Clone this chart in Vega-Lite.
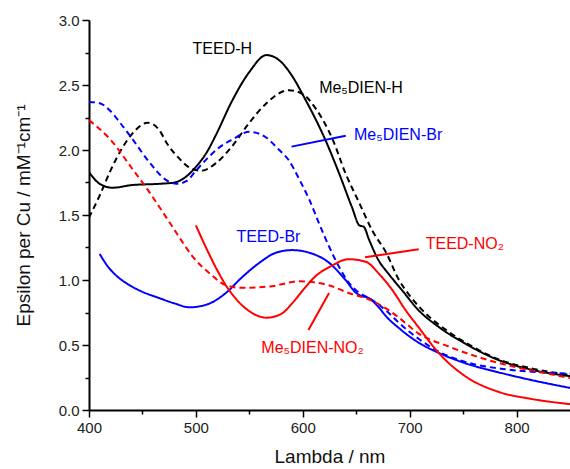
{
  "$schema": "https://vega.github.io/schema/vega-lite/v6.json",
  "width": 481,
  "height": 390,
  "autosize": {"type": "none"},
  "padding": {"left": 89, "top": 20, "right": 0, "bottom": 59},
  "background": "white",
  "config": {
    "view": {"stroke": null},
    "font": "Liberation Sans",
    "axis": {
      "grid": false,
      "domainColor": "black",
      "domainWidth": 2,
      "tickColor": "black",
      "tickWidth": 1.5,
      "labelFlush": false,
      "labelOverlap": false,
      "labelFont": "Liberation Sans",
      "labelFontSize": 15,
      "labelColor": "#222222",
      "titleFont": "Liberation Sans",
      "titleFontSize": 19,
      "titleFontWeight": "normal",
      "titleColor": "#111111"
    }
  },
  "datasets": {
    "curves": [
      {"s": "TEED-H", "x": 400, "y": 1.83}, {"s": "TEED-H", "x": 410, "y": 1.74}, {"s": "TEED-H", "x": 422, "y": 1.71}, {"s": "TEED-H", "x": 440, "y": 1.73}, {"s": "TEED-H", "x": 466, "y": 1.74}, {"s": "TEED-H", "x": 480, "y": 1.75}, {"s": "TEED-H", "x": 490, "y": 1.79}, {"s": "TEED-H", "x": 500, "y": 1.87}, {"s": "TEED-H", "x": 510, "y": 1.98}, {"s": "TEED-H", "x": 519, "y": 2.12}, {"s": "TEED-H", "x": 534, "y": 2.38}, {"s": "TEED-H", "x": 550, "y": 2.6}, {"s": "TEED-H", "x": 566, "y": 2.73}, {"s": "TEED-H", "x": 578, "y": 2.69}, {"s": "TEED-H", "x": 590, "y": 2.57}, {"s": "TEED-H", "x": 601, "y": 2.41}, {"s": "TEED-H", "x": 621, "y": 2.08}, {"s": "TEED-H", "x": 634, "y": 1.82}, {"s": "TEED-H", "x": 646, "y": 1.56}, {"s": "TEED-H", "x": 653, "y": 1.42}, {"s": "TEED-H", "x": 657, "y": 1.41}, {"s": "TEED-H", "x": 662, "y": 1.31}, {"s": "TEED-H", "x": 671, "y": 1.15}, {"s": "TEED-H", "x": 680, "y": 1.05}, {"s": "TEED-H", "x": 693, "y": 0.92}, {"s": "TEED-H", "x": 708, "y": 0.77}, {"s": "TEED-H", "x": 727, "y": 0.64}, {"s": "TEED-H", "x": 752, "y": 0.51}, {"s": "TEED-H", "x": 783, "y": 0.385}, {"s": "TEED-H", "x": 814, "y": 0.31}, {"s": "TEED-H", "x": 850, "y": 0.26},
      {"s": "Me5DIEN-H", "x": 400, "y": 1.48}, {"s": "Me5DIEN-H", "x": 410, "y": 1.65}, {"s": "Me5DIEN-H", "x": 420, "y": 1.84}, {"s": "Me5DIEN-H", "x": 430, "y": 2.0}, {"s": "Me5DIEN-H", "x": 440, "y": 2.12}, {"s": "Me5DIEN-H", "x": 455, "y": 2.21}, {"s": "Me5DIEN-H", "x": 466, "y": 2.15}, {"s": "Me5DIEN-H", "x": 473, "y": 2.05}, {"s": "Me5DIEN-H", "x": 485, "y": 1.93}, {"s": "Me5DIEN-H", "x": 495, "y": 1.86}, {"s": "Me5DIEN-H", "x": 505, "y": 1.84}, {"s": "Me5DIEN-H", "x": 519, "y": 1.9}, {"s": "Me5DIEN-H", "x": 534, "y": 2.03}, {"s": "Me5DIEN-H", "x": 550, "y": 2.21}, {"s": "Me5DIEN-H", "x": 566, "y": 2.36}, {"s": "Me5DIEN-H", "x": 587, "y": 2.46}, {"s": "Me5DIEN-H", "x": 600, "y": 2.43}, {"s": "Me5DIEN-H", "x": 612, "y": 2.32}, {"s": "Me5DIEN-H", "x": 628, "y": 2.08}, {"s": "Me5DIEN-H", "x": 640, "y": 1.82}, {"s": "Me5DIEN-H", "x": 653, "y": 1.59}, {"s": "Me5DIEN-H", "x": 665, "y": 1.38}, {"s": "Me5DIEN-H", "x": 678, "y": 1.21}, {"s": "Me5DIEN-H", "x": 690, "y": 1.0}, {"s": "Me5DIEN-H", "x": 700, "y": 0.88}, {"s": "Me5DIEN-H", "x": 718, "y": 0.72}, {"s": "Me5DIEN-H", "x": 735, "y": 0.61}, {"s": "Me5DIEN-H", "x": 752, "y": 0.52}, {"s": "Me5DIEN-H", "x": 783, "y": 0.39}, {"s": "Me5DIEN-H", "x": 814, "y": 0.32}, {"s": "Me5DIEN-H", "x": 850, "y": 0.27},
      {"s": "Me5DIEN-Br", "x": 400, "y": 2.37}, {"s": "Me5DIEN-Br", "x": 410, "y": 2.36}, {"s": "Me5DIEN-Br", "x": 420, "y": 2.3}, {"s": "Me5DIEN-Br", "x": 430, "y": 2.2}, {"s": "Me5DIEN-Br", "x": 441, "y": 2.08}, {"s": "Me5DIEN-Br", "x": 457, "y": 1.9}, {"s": "Me5DIEN-Br", "x": 472, "y": 1.77}, {"s": "Me5DIEN-Br", "x": 482, "y": 1.74}, {"s": "Me5DIEN-Br", "x": 491, "y": 1.76}, {"s": "Me5DIEN-Br", "x": 500, "y": 1.84}, {"s": "Me5DIEN-Br", "x": 510, "y": 1.93}, {"s": "Me5DIEN-Br", "x": 522, "y": 2.02}, {"s": "Me5DIEN-Br", "x": 534, "y": 2.08}, {"s": "Me5DIEN-Br", "x": 550, "y": 2.14}, {"s": "Me5DIEN-Br", "x": 565, "y": 2.1}, {"s": "Me5DIEN-Br", "x": 578, "y": 2.0}, {"s": "Me5DIEN-Br", "x": 587, "y": 1.92}, {"s": "Me5DIEN-Br", "x": 597, "y": 1.77}, {"s": "Me5DIEN-Br", "x": 606, "y": 1.62}, {"s": "Me5DIEN-Br", "x": 615, "y": 1.44}, {"s": "Me5DIEN-Br", "x": 625, "y": 1.25}, {"s": "Me5DIEN-Br", "x": 634, "y": 1.1}, {"s": "Me5DIEN-Br", "x": 643, "y": 0.98}, {"s": "Me5DIEN-Br", "x": 653, "y": 0.9}, {"s": "Me5DIEN-Br", "x": 662, "y": 0.86}, {"s": "Me5DIEN-Br", "x": 671, "y": 0.81}, {"s": "Me5DIEN-Br", "x": 680, "y": 0.75}, {"s": "Me5DIEN-Br", "x": 690, "y": 0.67}, {"s": "Me5DIEN-Br", "x": 708, "y": 0.55}, {"s": "Me5DIEN-Br", "x": 727, "y": 0.45}, {"s": "Me5DIEN-Br", "x": 752, "y": 0.37}, {"s": "Me5DIEN-Br", "x": 783, "y": 0.32}, {"s": "Me5DIEN-Br", "x": 814, "y": 0.295}, {"s": "Me5DIEN-Br", "x": 850, "y": 0.28},
      {"s": "TEED-Br", "x": 410, "y": 1.2}, {"s": "TEED-Br", "x": 418, "y": 1.1}, {"s": "TEED-Br", "x": 426, "y": 1.03}, {"s": "TEED-Br", "x": 436, "y": 0.97}, {"s": "TEED-Br", "x": 447, "y": 0.92}, {"s": "TEED-Br", "x": 466, "y": 0.86}, {"s": "TEED-Br", "x": 480, "y": 0.82}, {"s": "TEED-Br", "x": 494, "y": 0.79}, {"s": "TEED-Br", "x": 505, "y": 0.8}, {"s": "TEED-Br", "x": 513, "y": 0.82}, {"s": "TEED-Br", "x": 528, "y": 0.9}, {"s": "TEED-Br", "x": 543, "y": 1.02}, {"s": "TEED-Br", "x": 559, "y": 1.13}, {"s": "TEED-Br", "x": 575, "y": 1.21}, {"s": "TEED-Br", "x": 590, "y": 1.23}, {"s": "TEED-Br", "x": 606, "y": 1.21}, {"s": "TEED-Br", "x": 625, "y": 1.13}, {"s": "TEED-Br", "x": 640, "y": 1.0}, {"s": "TEED-Br", "x": 650, "y": 0.9}, {"s": "TEED-Br", "x": 654, "y": 0.88}, {"s": "TEED-Br", "x": 662, "y": 0.86}, {"s": "TEED-Br", "x": 671, "y": 0.79}, {"s": "TEED-Br", "x": 678, "y": 0.72}, {"s": "TEED-Br", "x": 690, "y": 0.63}, {"s": "TEED-Br", "x": 708, "y": 0.52}, {"s": "TEED-Br", "x": 727, "y": 0.44}, {"s": "TEED-Br", "x": 752, "y": 0.36}, {"s": "TEED-Br", "x": 783, "y": 0.29}, {"s": "TEED-Br", "x": 814, "y": 0.23}, {"s": "TEED-Br", "x": 850, "y": 0.17},
      {"s": "TEED-NO2", "x": 500, "y": 1.42}, {"s": "TEED-NO2", "x": 510, "y": 1.24}, {"s": "TEED-NO2", "x": 519, "y": 1.09}, {"s": "TEED-NO2", "x": 528, "y": 0.96}, {"s": "TEED-NO2", "x": 538, "y": 0.85}, {"s": "TEED-NO2", "x": 550, "y": 0.76}, {"s": "TEED-NO2", "x": 566, "y": 0.71}, {"s": "TEED-NO2", "x": 580, "y": 0.74}, {"s": "TEED-NO2", "x": 590, "y": 0.82}, {"s": "TEED-NO2", "x": 600, "y": 0.92}, {"s": "TEED-NO2", "x": 612, "y": 1.03}, {"s": "TEED-NO2", "x": 625, "y": 1.1}, {"s": "TEED-NO2", "x": 643, "y": 1.16}, {"s": "TEED-NO2", "x": 659, "y": 1.14}, {"s": "TEED-NO2", "x": 671, "y": 1.05}, {"s": "TEED-NO2", "x": 684, "y": 0.92}, {"s": "TEED-NO2", "x": 696, "y": 0.77}, {"s": "TEED-NO2", "x": 708, "y": 0.64}, {"s": "TEED-NO2", "x": 727, "y": 0.44}, {"s": "TEED-NO2", "x": 752, "y": 0.26}, {"s": "TEED-NO2", "x": 783, "y": 0.14}, {"s": "TEED-NO2", "x": 814, "y": 0.085}, {"s": "TEED-NO2", "x": 850, "y": 0.045},
      {"s": "Me5DIEN-NO2", "x": 400, "y": 2.23}, {"s": "Me5DIEN-NO2", "x": 420, "y": 2.08}, {"s": "Me5DIEN-NO2", "x": 441, "y": 1.85}, {"s": "Me5DIEN-NO2", "x": 457, "y": 1.67}, {"s": "Me5DIEN-NO2", "x": 466, "y": 1.56}, {"s": "Me5DIEN-NO2", "x": 482, "y": 1.36}, {"s": "Me5DIEN-NO2", "x": 497, "y": 1.18}, {"s": "Me5DIEN-NO2", "x": 513, "y": 1.05}, {"s": "Me5DIEN-NO2", "x": 528, "y": 0.96}, {"s": "Me5DIEN-NO2", "x": 543, "y": 0.94}, {"s": "Me5DIEN-NO2", "x": 569, "y": 0.95}, {"s": "Me5DIEN-NO2", "x": 597, "y": 0.99}, {"s": "Me5DIEN-NO2", "x": 624, "y": 0.96}, {"s": "Me5DIEN-NO2", "x": 643, "y": 0.9}, {"s": "Me5DIEN-NO2", "x": 662, "y": 0.85}, {"s": "Me5DIEN-NO2", "x": 680, "y": 0.77}, {"s": "Me5DIEN-NO2", "x": 690, "y": 0.71}, {"s": "Me5DIEN-NO2", "x": 708, "y": 0.59}, {"s": "Me5DIEN-NO2", "x": 736, "y": 0.49}, {"s": "Me5DIEN-NO2", "x": 767, "y": 0.4}, {"s": "Me5DIEN-NO2", "x": 799, "y": 0.33}, {"s": "Me5DIEN-NO2", "x": 820, "y": 0.295}, {"s": "Me5DIEN-NO2", "x": 850, "y": 0.245}
    ],
    "leaders": [
      {"s": "Me5DIEN-Br", "x1": 589.5, "y1": 2.026, "x2": 640.2, "y2": 2.11},
      {"s": "TEED-NO2", "x1": 658.3, "y1": 1.175, "x2": 708.5, "y2": 1.236},
      {"s": "Me5DIEN-NO2", "x1": 624.6, "y1": 0.9, "x2": 605.3, "y2": 0.615}
    ],
    "labels": [
      {"s": "TEED-H", "t": "TEED-H", "x": 496.9, "y": 2.78},
      {"s": "Me5DIEN-H", "t": "Me₅DIEN-H", "x": 615.3, "y": 2.48},
      {"s": "Me5DIEN-Br", "t": "Me₅DIEN-Br", "x": 647.9, "y": 2.115},
      {"s": "TEED-Br", "t": "TEED-Br", "x": 537.9, "y": 1.33},
      {"s": "TEED-NO2", "t": "TEED-NO₂", "x": 715, "y": 1.277},
      {"s": "Me5DIEN-NO2", "t": "Me₅DIEN-NO₂", "x": 561.2, "y": 0.477}
    ]
  },
  "layer": [
    {
      "data": {"name": "curves"},
      "mark": {"type": "line", "strokeWidth": 2, "clip": true, "interpolate": "monotone"},
      "encoding": {
        "x": {"field": "x", "type": "quantitative", "scale": {"domain": [400, 850], "nice": false, "zero": false},
              "axis": {"orient": "bottom", "values": [400, 500, 600, 700, 800], "tickSize": 7, "labelPadding": 3, "title": "Lambda / nm", "titlePadding": 12}},
        "y": {"field": "y", "type": "quantitative", "scale": {"domain": [0, 3], "nice": false, "zero": false},
              "axis": {"orient": "left", "values": [0, 0.5, 1, 1.5, 2, 2.5, 3], "format": ".1f", "tickSize": 7, "labelPadding": 3, "title": "Epsilon per Cu / mM⁻¹cm⁻¹", "titlePadding": 25}},
        "color": {"field": "s", "type": "nominal", "legend": null,
                  "scale": {"domain": ["TEED-H", "Me5DIEN-H", "Me5DIEN-Br", "TEED-Br", "TEED-NO2", "Me5DIEN-NO2"], "range": ["#000000", "#000000", "#0000ff", "#0000ff", "#ff0000", "#ff0000"]}},
        "strokeDash": {"field": "s", "type": "nominal", "legend": null,
                  "scale": {"domain": ["TEED-H", "Me5DIEN-H", "Me5DIEN-Br", "TEED-Br", "TEED-NO2", "Me5DIEN-NO2"], "range": [[1, 0], [6, 4], [6, 4], [1, 0], [1, 0], [6, 4]]}},
        "detail": {"field": "s"}
      }
    },
    {
      "data": {"name": "leaders"},
      "mark": {"type": "rule", "strokeWidth": 2},
      "encoding": {
        "x": {"field": "x1", "type": "quantitative",
              "axis": {"orient": "bottom", "values": [450, 550, 650, 750], "tickSize": 4, "labels": false, "domain": false, "title": null}},
        "y": {"field": "y1", "type": "quantitative",
              "axis": {"orient": "left", "values": [0.25, 0.75, 1.25, 1.75, 2.25, 2.75], "tickSize": 4, "labels": false, "domain": false, "title": null}},
        "x2": {"field": "x2"},
        "y2": {"field": "y2"},
        "color": {"field": "s", "type": "nominal", "legend": null}
      }
    },
    {
      "data": {"name": "labels"},
      "mark": {"type": "text", "align": "left", "baseline": "middle", "fontSize": 16, "font": "Liberation Sans"},
      "encoding": {
        "x": {"field": "x", "type": "quantitative", "axis": null},
        "y": {"field": "y", "type": "quantitative", "axis": null},
        "text": {"field": "t"},
        "color": {"field": "s", "type": "nominal", "legend": null}
      }
    }
  ],
  "resolve": {"axis": {"x": "independent", "y": "independent"}}
}
